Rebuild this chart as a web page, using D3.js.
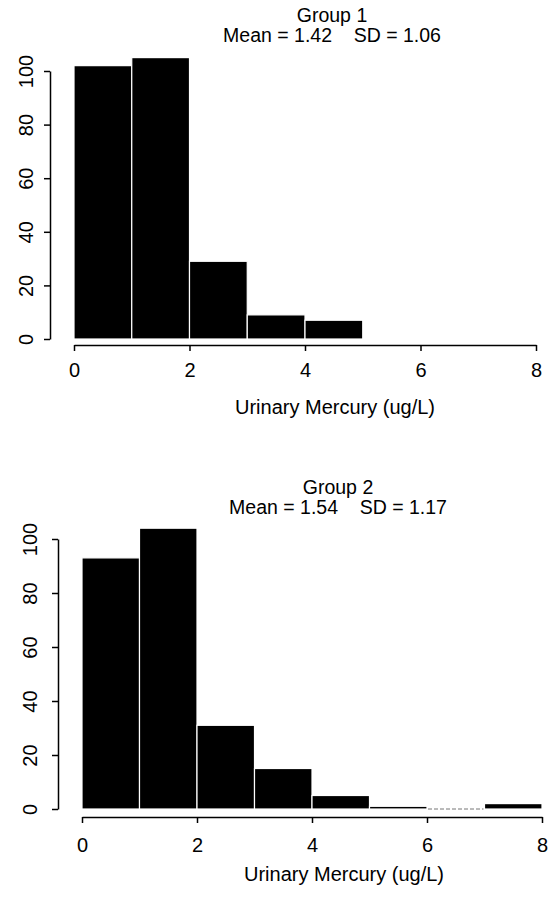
<!DOCTYPE html>
<html>
<head>
<meta charset="utf-8">
<script src="https://cdn.jsdelivr.net/npm/d3@7"></script>
<style>
  body { margin: 0; background: #fff; }
  svg { display: block; font-family: "Liberation Sans", Arial, sans-serif; }
</style>
</head>
<body>
<div id="chart"></div>
<script>
// histogram bins (ug/L) and counts
const edges1 = [0, 1, 2, 3, 4, 5];
const counts1 = [102, 105, 29, 9, 7];
const edges2 = [0, 1, 2, 3, 4, 5, 6, 7, 8];
const counts2 = [93, 104, 31, 15, 5, 1, 0, 2];

const xTicks = [0, 2, 4, 6, 8];
const yTicks = [0, 20, 40, 60, 80, 100];

const groupNames = ["Group 1", "Group 2"];
const statLines = ["Mean = 1.42    SD = 1.06", "Mean = 1.54    SD = 1.17"];
const xTitle = "Urinary Mercury (ug/L)";

const width = 556, height = 910;

// where each panel sits on the page
const panels = [
  { edges: edges1, counts: counts1, name: groupNames[0], stats: statLines[0],
    yAxisX: 50, yBottom: 339, yTop: 71, xLeft: 74, xRight: 536, xAxisY: 345,
    xPad: 12, yLabOff: 17, titleX: 332, t1: 22, t2: 42, xlabX: 335, xlabY: 414 },
  { edges: edges2, counts: counts2, name: groupNames[1], stats: statLines[1],
    yAxisX: 58, yBottom: 809, yTop: 539, xLeft: 82, xRight: 542, xAxisY: 817,
    xPad: 15, yLabOff: 21, titleX: 338, t1: 494, t2: 514, xlabX: 344, xlabY: 881 }
];

const svg = d3.select("#chart").append("svg")
  .attr("width", width)
  .attr("height", height);

panels.forEach(drawPanel);

function drawPanel(p) {
  const bins = p.counts.map((c, i) => ({ x0: p.edges[i], x1: p.edges[i + 1], count: c }));

  const x = d3.scaleLinear().domain([0, 8]).range([p.xLeft, p.xRight]);
  const y = d3.scaleLinear().domain([0, 100]).range([p.yBottom, p.yTop]);

  const g = svg.append("g");

  // bars
  g.selectAll("rect.bar")
    .data(bins.filter(d => d.count > 0))
    .join("rect")
    .attr("class", "bar")
    .attr("x", d => x(d.x0))
    .attr("y", d => y(d.count))
    .attr("width", d => x(d.x1) - x(d.x0))
    .attr("height", d => y(0) - y(d.count))
    .attr("fill", "#000")
    .attr("stroke", "#fff")
    .attr("stroke-width", 1.2);

  // empty bins still leave a faint line
  g.selectAll("line.empty")
    .data(bins.filter(d => d.count === 0))
    .join("line")
    .attr("class", "empty")
    .attr("x1", d => x(d.x0) + 1)
    .attr("x2", d => x(d.x1) - 1)
    .attr("y1", y(0))
    .attr("y2", y(0))
    .attr("stroke", "#777")
    .attr("stroke-width", 1)
    .attr("stroke-dasharray", "4,2");

  // x axis sits a bit below zero, like R does it
  const xa = g.append("g")
    .attr("transform", `translate(0,${p.xAxisY})`)
    .call(d3.axisBottom(x).tickValues(xTicks).tickFormat(d3.format("d"))
      .tickSize(6).tickSizeOuter(0).tickPadding(p.xPad));
  styleAxis(xa);
  xa.selectAll("text").attr("font-size", 20);

  // y axis with labels turned upright along the axis
  const ya = g.append("g")
    .attr("transform", `translate(${p.yAxisX},0)`)
    .call(d3.axisLeft(y).tickValues(yTicks).tickSize(6).tickSizeOuter(0));
  styleAxis(ya);
  ya.selectAll("text").remove();
  ya.selectAll(".tick").append("text")
    .attr("transform", `translate(${-p.yLabOff},0) rotate(-90)`)
    .attr("text-anchor", "middle")
    .attr("fill", "#000")
    .attr("font-size", 20)
    .text(d => d);

  // titles
  g.append("text")
    .attr("x", p.titleX).attr("y", p.t1)
    .attr("text-anchor", "middle")
    .attr("font-size", 19.5)
    .text(p.name);
  g.append("text")
    .attr("x", p.titleX).attr("y", p.t2)
    .attr("text-anchor", "middle")
    .attr("font-size", 19.5)
    .style("white-space", "pre")
    .text(p.stats);

  g.append("text")
    .attr("x", p.xlabX).attr("y", p.xlabY)
    .attr("text-anchor", "middle")
    .attr("font-size", 20)
    .text(xTitle);
}

function styleAxis(a) {
  a.selectAll("path, line").attr("stroke", "#000").attr("stroke-width", 1.5);
  a.attr("font-family", null);
  a.selectAll("text").attr("fill", "#000");
}
</script>
</body>
</html>
